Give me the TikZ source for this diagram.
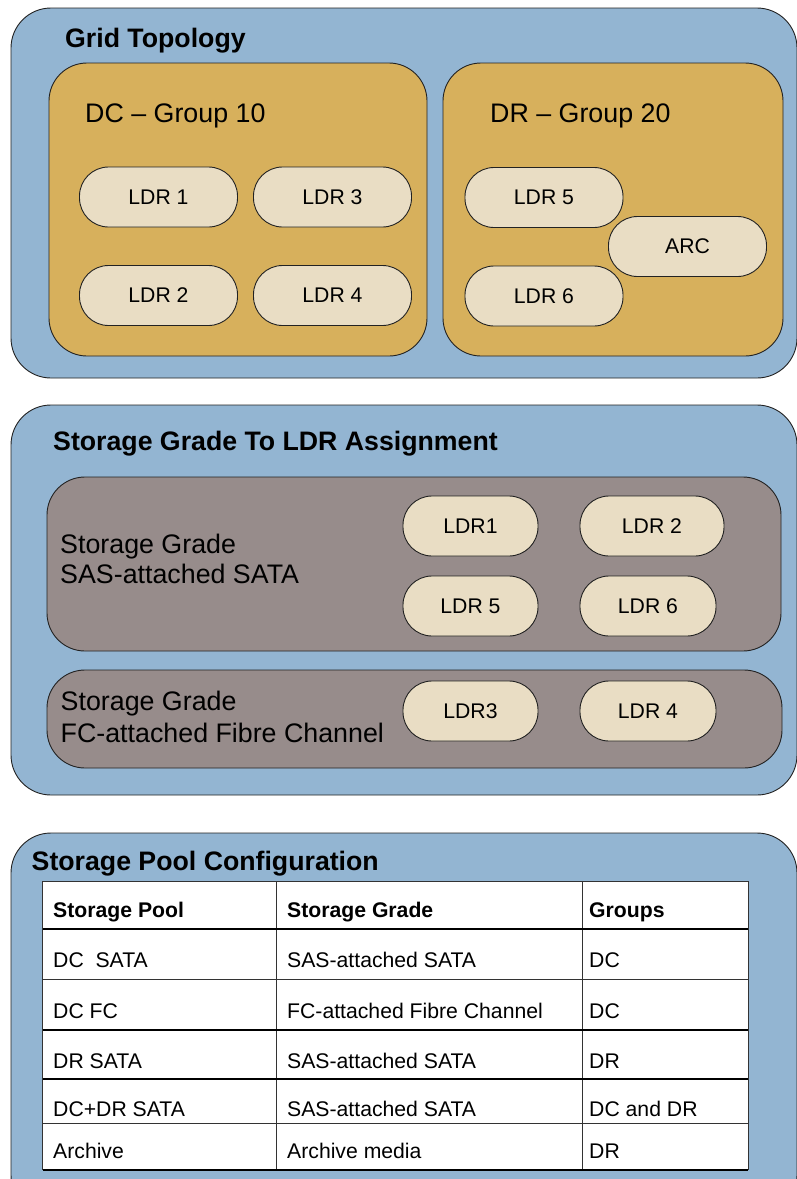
\documentclass[tikz,border=0pt]{standalone}
\usepackage{fontspec}
\setmainfont{Liberation Sans}
\definecolor{panelblue}{RGB}{147,181,210}
\definecolor{groupgold}{RGB}{215,176,92}
\definecolor{pillcream}{RGB}{233,221,196}
\definecolor{gradegray}{RGB}{151,140,139}
\definecolor{edge}{RGB}{34,34,34}
\tikzset{
  panel/.style={draw=edge, fill=panelblue, line width=0.9pt, rounded corners=40pt},
  groupbox/.style={draw=edge, fill=groupgold, line width=0.9pt, rounded corners=38pt},
  gradebox/.style={draw=edge, fill=gradegray, line width=0.9pt, rounded corners=38pt},
  pill/.style={draw=edge, fill=pillcream, line width=0.9pt, rounded corners=29pt,
    minimum height=60pt, minimum width=158pt, inner sep=0pt,
    font=\fontsize{21.2}{25}\selectfont},
  title/.style={anchor=base west, inner sep=0pt, font=\bfseries\fontsize{26.7}{30}\selectfont},
  label/.style={anchor=base west, inner sep=0pt, font=\fontsize{26.8}{30}\selectfont},
  cell/.style={anchor=base west, inner sep=0pt, font=\fontsize{21.2}{25}\selectfont},
  headcell/.style={cell, font=\bfseries\fontsize{21.2}{25}\selectfont},
  rule/.style={draw=black, line width=1.6pt},
  thinrule/.style={draw=black!80, line width=0.8pt}
}
\begin{document}
\begin{tikzpicture}[x=1pt, y=-1pt]
\useasboundingbox (0,0) rectangle (796,1179);

% ---------------- Grid topology ----------------
\path[panel] (11,8) rectangle (797,378);
\node[title] (gridtitle) at (65,47) {Grid Topology};

\path[groupbox] (49,63) rectangle (427,356);
\node[label] (dclabel) at (85,122) {DC -- Group 10};
\node[pill] (ldr1) at (158.5,197) {LDR 1};
\node[pill] (ldr3) at (332.5,197) {LDR 3};
\node[pill] (ldr2) at (158.5,295.5) {LDR 2};
\node[pill] (ldr4) at (332.5,295.5) {LDR 4};

\path[groupbox] (443,63) rectangle (783,356);
\node[label] (drlabel) at (490,122) {DR -- Group 20};
\node[pill] (ldr5) at (544,197.5) {LDR 5};
\node[pill] (ldr6) at (544,296) {LDR 6};
\node[pill] (arc) at (687.5,246.5) {ARC};

% ---------------- Storage grade to LDR ----------------
\path[panel] (11,405) rectangle (797,795);
\node[title] (gradetitle) at (53,450) {Storage Grade To LDR Assignment};

\path[gradebox] (47,477) rectangle (781,651);
\node[label] (sata1) at (60,553) {Storage Grade};
\node[label] (sata2) at (60,583) {SAS-attached SATA};
\node[pill, minimum width=135pt] (g1) at (470.5,526) {LDR1};
\node[pill, minimum width=144pt] (g2) at (652,526) {LDR 2};
\node[pill, minimum width=135pt] (g5) at (470.5,606) {LDR 5};
\node[pill, minimum width=136pt] (g6) at (648,606) {LDR 6};

\path[gradebox] (47,670) rectangle (782,768);
\node[label] (fc1) at (60.5,710) {Storage Grade};
\node[label] (fc2) at (60.5,742) {FC-attached Fibre Channel};
\node[pill, minimum width=135pt] (g3) at (470.5,711) {LDR3};
\node[pill, minimum width=136pt] (g4) at (648,711) {LDR 4};

% ---------------- Storage pool configuration ----------------
\path[panel] (11,833) rectangle (797,1215);
\node[title] (pooltitle) at (31.5,870) {Storage Pool Configuration};

\fill[white] (42.5,881) rectangle (748,1170);
\draw[thinrule] (276,881) -- (276,1170);
\draw[thinrule] (582,881) -- (582,1170);
\draw[thinrule] (42.5,881) -- (748,881);
\draw[thinrule] (42.5,979) -- (748,979);
\draw[thinrule] (42.5,1123) -- (748,1123);
\draw[rule] (42.5,929) -- (748,929);
\draw[rule] (42.5,1030) -- (748,1030);
\draw[rule] (42.5,1079) -- (748,1079);
\draw[rule] (42.5,1170) -- (748,1170);
\draw[thinrule] (42.5,881) -- (42.5,1170);
\draw[thinrule] (748,881) -- (748,1170);

\node[headcell] (h1) at (53,917) {Storage Pool};
\node[headcell] (h2) at (287,917) {Storage Grade};
\node[headcell] (h3) at (589,917) {Groups};

\node[cell] (r1a) at (53,967) {DC\ \ SATA};
\node[cell] (r1b) at (287,967) {SAS-attached SATA};
\node[cell] (r1c) at (589,967) {DC};

\node[cell] (r2a) at (53,1018) {DC FC};
\node[cell] (r2b) at (287,1018) {FC-attached Fibre Channel};
\node[cell] (r2c) at (589,1018) {DC};

\node[cell] (r3a) at (53,1068) {DR SATA};
\node[cell] (r3b) at (287,1068) {SAS-attached SATA};
\node[cell] (r3c) at (589,1068) {DR};

\node[cell] (r4a) at (53,1116) {DC+DR SATA};
\node[cell] (r4b) at (287,1116) {SAS-attached SATA};
\node[cell] (r4c) at (589,1116) {DC and DR};

\node[cell] (r5a) at (53,1158) {Archive};
\node[cell] (r5b) at (287,1158) {Archive media};
\node[cell] (r5c) at (589,1158) {DR};
\end{tikzpicture}
\end{document}
